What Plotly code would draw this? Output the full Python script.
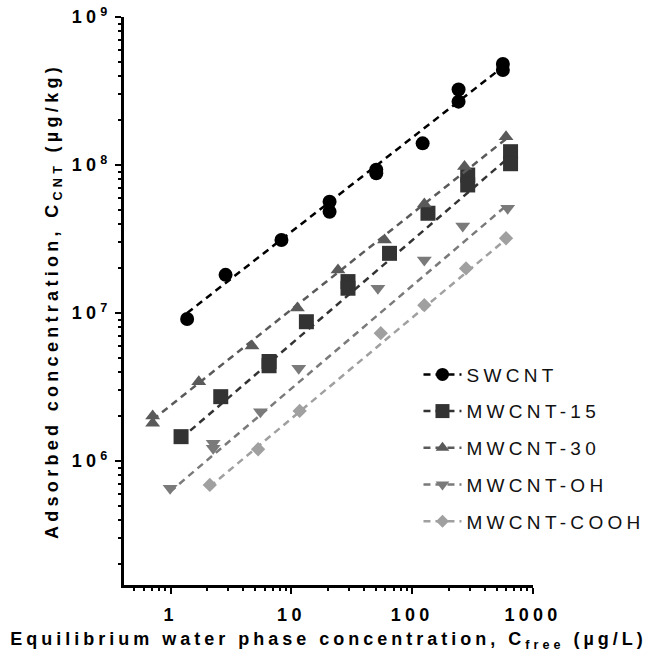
import plotly.graph_objects as go

# ---- data (x: µg/L, y: µg/kg) ----
sw_x = [1.37, 2.85, 8.27, 20.7, 20.7, 50.4, 50.4, 122, 242, 242, 563, 563]
sw_y = [9.1e6, 1.81e7, 3.11e7, 5.65e7, 4.83e7, 9.3e7, 8.8e7, 1.40e8, 3.24e8, 2.68e8, 4.81e8, 4.38e8]

m15_x = [1.22, 2.6, 6.53, 6.53, 13.3, 29.4, 29.4, 64.9, 135, 288, 288, 652, 652]
m15_y = [1.46e6, 2.72e6, 4.7e6, 4.4e6, 8.73e6, 1.63e7, 1.47e7, 2.53e7, 4.72e7, 8.55e7, 7.33e7, 1.23e8, 1.02e8]

m30_x = [0.71, 0.71, 1.71, 4.72, 11.2, 24.3, 59, 126, 271, 598]
m30_y = [2.01e6, 1.80e6, 3.43e6, 5.98e6, 1.08e7, 1.95e7, 3.11e7, 5.45e7, 9.75e7, 1.55e8]

moh_x = [0.99, 2.25, 2.25, 5.54, 11.5, 52, 126, 262, 617]
moh_y = [6.54e5, 1.32e6, 1.22e6, 2.15e6, 4.23e6, 1.47e7, 2.28e7, 3.87e7, 5.1e7]

mco_x = [2.11, 5.3, 11.7, 54.9, 126, 279, 598]
mco_y = [6.89e5, 1.2e6, 2.18e6, 7.3e6, 1.13e7, 2.0e7, 3.2e7]

# ---- fitted (log-log) trend lines: end points ----
sw_fit_x, sw_fit_y = [1.37, 563], [1.0e7, 4.6e8]
m15_fit_x, m15_fit_y = [1.22, 652], [1.42e6, 1.15e8]
m30_fit_x, m30_fit_y = [0.71, 598], [1.9e6, 1.5e8]
moh_fit_x, moh_fit_y = [0.99, 617], [6.2e5, 5.4e7]
mco_fit_x, mco_fit_y = [2.11, 598], [6.7e5, 3.15e7]

names = ["SWCNT", "MWCNT-15", "MWCNT-30", "MWCNT-OH", "MWCNT-COOH"]
series = [(sw_x, sw_y), (m15_x, m15_y), (m30_x, m30_y), (moh_x, moh_y), (mco_x, mco_y)]
fits = [(sw_fit_x, sw_fit_y), (m15_fit_x, m15_fit_y), (m30_fit_x, m30_fit_y),
        (moh_fit_x, moh_fit_y), (mco_fit_x, mco_fit_y)]
colors = ["#000000", "#333333", "#5a5a5a", "#7a7a7a", "#a0a0a0"]
symbols = ["circle", "square", "triangle-up", "triangle-down", "diamond"]
sizes = [14, 15, 13, 13, 11]

x_ticks = [1, 10, 100, 1000]
x_ticktext = ["1", "10", "100", "1000"]
y_ticks = [1e6, 1e7, 1e8, 1e9]
y_ticktext = ["10<sup>6</sup>", "10<sup>7</sup>", "10<sup>8</sup>", "10<sup>9</sup>"]

FONT = "Liberation Sans, Arial, sans-serif"
DASH = "7px,5px"

fig = go.Figure()
for (xs, ys), (fx, fy), nm, col, sym, sz in zip(series, fits, names, colors, symbols, sizes):
    fig.add_trace(go.Scatter(
        x=fx, y=fy, mode="lines", showlegend=False, legendgroup=nm,
        line=dict(color=col, width=2.5, dash=DASH), hoverinfo="skip"))
    fig.add_trace(go.Scatter(
        x=xs, y=ys, mode="markers", name=nm, legendgroup=nm, showlegend=False,
        marker=dict(symbol=sym, size=sz, color=col, line=dict(width=0))))
    # legend entry (dashed line + marker)
    fig.add_trace(go.Scatter(
        x=[None], y=[None], mode="lines+markers", name=nm, legendgroup=nm,
        line=dict(color=col, width=2.5, dash=DASH),
        marker=dict(symbol=sym, size=sz - 1, color=col, line=dict(width=0))))

minor_x = [m * 10 ** e for e in range(-1, 3) for m in range(2, 10) if 0.41 < m * 10 ** e < 1000]
minor_y = [m * 10 ** e for e in range(5, 9) for m in range(2, 10) if 1.45e5 < m * 10 ** e < 1e9]

axis_common = dict(
    type="log", showline=True, linecolor="black", linewidth=2.5, mirror=False,
    showgrid=False, zeroline=False, ticks="outside", ticklen=6, tickwidth=2,
    tickcolor="black", automargin=False,
    tickfont=dict(family=FONT, size=18, color="black", weight="bold"),
)

fig.update_layout(
    template="none",
    width=652, height=661,
    margin=dict(l=124, r=119, t=17, b=76, autoexpand=False),
    paper_bgcolor="white", plot_bgcolor="white",
    font=dict(family=FONT, color="black"),
    xaxis=dict(
        **axis_common, range=[-0.386, 3.0],
        tickmode="array", tickvals=x_ticks, ticktext=x_ticktext,
        minor=dict(tickmode="array", tickvals=minor_x, ticks="outside", ticklen=3.5,
                   tickwidth=2, tickcolor="black", showgrid=False),
        title=dict(text="Equilibrium water phase concentration, C<sub>free</sub> (µg/L)",
                   font=dict(family=FONT, size=18, color="black", weight="bold"), standoff=15),
    ),
    yaxis=dict(
        **axis_common, range=[5.162, 9.0],
        tickmode="array", tickvals=y_ticks, ticktext=y_ticktext,
        minor=dict(tickmode="array", tickvals=minor_y, ticks="outside", ticklen=3.5,
                   tickwidth=2, tickcolor="black", showgrid=False),
        title=dict(text="Adsorbed concentration, C<sub>CNT</sub> (µg/kg)",
                   font=dict(family=FONT, size=18, color="black", weight="bold"), standoff=22),
    ),
    legend=dict(
        x=0.72, xanchor="left", y=0.404, yanchor="top",
        bgcolor="rgba(0,0,0,0)", borderwidth=0,
        font=dict(family=FONT, size=19, color="#111111"),
        tracegroupgap=9, itemwidth=38,
    ),
)

post = """
document.body.style.margin = '0';
var gd = document.getElementById('{plot_id}');
gd.querySelectorAll('text').forEach(function(t){ t.style.letterSpacing = '4.3px'; });
gd.querySelectorAll('.xtitle').forEach(function(t){ t.style.letterSpacing = '4px'; });
gd.querySelectorAll('.xtick text').forEach(function(t){
  var y = parseFloat(t.getAttribute('y') || '0');
  t.setAttribute('y', y + 6);
});
gd.querySelectorAll('.legend [clip-path], .legend .scrollbox').forEach(function(e){ e.removeAttribute('clip-path'); });
"""
fig.write_html("out.html", post_script=post, config={"displayModeBar": False})
